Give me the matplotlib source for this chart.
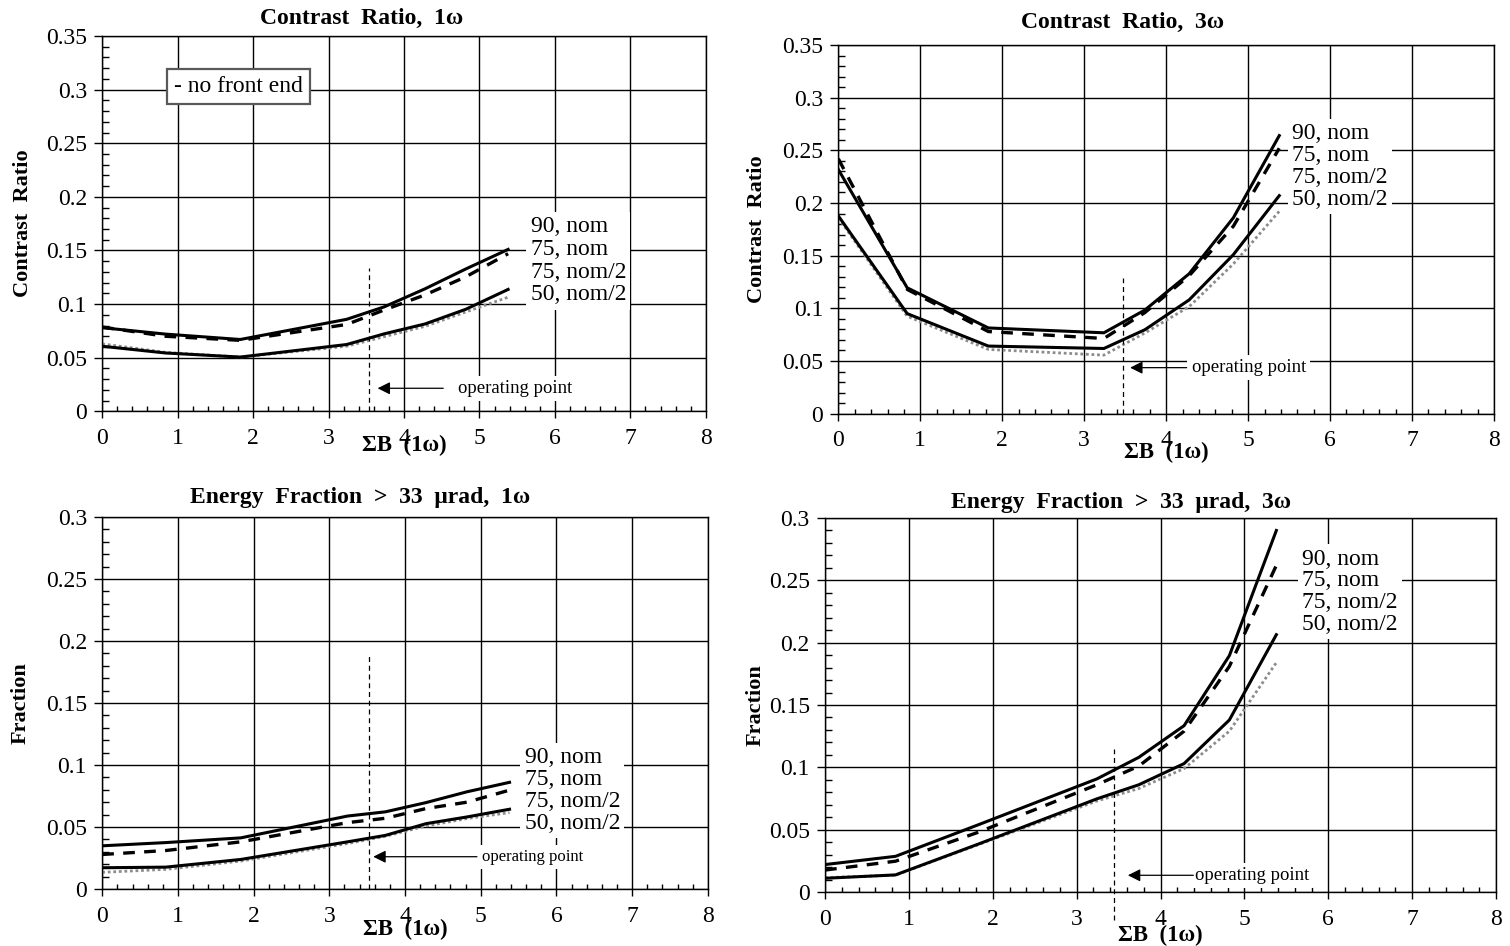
import matplotlib
matplotlib.use("Agg")
import matplotlib.pyplot as plt
from matplotlib.ticker import MultipleLocator, FuncFormatter

plt.rcParams['font.family'] = ['Liberation Serif', 'DejaVu Serif']
plt.rcParams['font.size'] = 16

# sigma-B sample points (1 omega)
sigma_b = [0, 0.84, 1.83, 3.24, 3.74, 4.28, 4.82, 5.38]
series_names = ["90, nom", "75, nom", "75, nom/2", "50, nom/2"]

# contrast ratio, 1 omega
cr1_90_nom = [0.078, 0.072, 0.067, 0.0858, 0.0975, 0.1143, 0.1328, 0.151]
cr1_75_nom = [0.0786, 0.070, 0.0662, 0.081, 0.0946, 0.1086, 0.1255, 0.147]
cr1_75_half = [0.0607, 0.0544, 0.0506, 0.0623, 0.0723, 0.0815, 0.0952, 0.1137]
cr1_50_half = [0.0629, 0.055, 0.0506, 0.0607, 0.0697, 0.0793, 0.0927, 0.1064]

# contrast ratio, 3 omega
cr3_90_nom = [0.2318, 0.1195, 0.0814, 0.0768, 0.0984, 0.1328, 0.186, 0.264]
cr3_75_nom = [0.242, 0.118, 0.078, 0.0714, 0.096, 0.131, 0.178, 0.252]
cr3_75_half = [0.1877, 0.095, 0.0642, 0.0619, 0.0797, 0.108, 0.151, 0.207]
cr3_50_half = [0.186, 0.0925, 0.061, 0.0556, 0.0766, 0.1016, 0.1422, 0.1922]

# energy fraction > 33 urad, 1 omega
ef1_90_nom = [0.0348, 0.0374, 0.0412, 0.0588, 0.0622, 0.0697, 0.0784, 0.086]
ef1_75_nom = [0.0278, 0.031, 0.038, 0.0535, 0.057, 0.0649, 0.070, 0.0797]
ef1_75_half = [0.0171, 0.0176, 0.0238, 0.038, 0.0432, 0.0527, 0.0581, 0.0643]
ef1_50_half = [0.0134, 0.0158, 0.0225, 0.0366, 0.0425, 0.0508, 0.0568, 0.0616]

# energy fraction > 33 urad, 3 omega
ef3_90_nom = [0.022, 0.0286, 0.054, 0.0907, 0.108, 0.1334, 0.1896, 0.29]
ef3_75_nom = [0.0176, 0.0247, 0.048, 0.086, 0.101, 0.129, 0.181, 0.262]
ef3_75_half = [0.011, 0.0137, 0.0385, 0.0747, 0.086, 0.103, 0.138, 0.2064]
ef3_50_half = [0.0115, 0.0135, 0.038, 0.073, 0.083, 0.099, 0.129, 0.184]

# operating point (sigma-B) marked on each panel
op_point = [3.53, 3.47, 3.53, 3.44]

styles = [
    dict(color='black', lw=2.2, ls='-', zorder=4),
    dict(color='black', lw=2.4, ls=(0, (3.5, 2.8)), zorder=5),
    dict(color='black', lw=2.2, ls='-', zorder=3),
    dict(color='0.55', lw=2.0, ls=(0, (1, 1)), zorder=2),
]

panels = [
    dict(rect=[0.0677, 0.5652, 0.3997, 0.3967], title="Contrast  Ratio,  1ω",
         ylabel="Contrast  Ratio", ymax=0.35,
         curves=[cr1_90_nom, cr1_75_nom, cr1_75_half, cr1_50_half],
         op_top=0.1335, op_bottom=0.0, arrow=(3.65, 4.52, 0.0215), op_text_x=4.71, op_fs=13.5,
         leg=(5.68, 0.1403), leg_ls=1.1, title_x=0.43, title_pad=13, xlab_y=-0.091, ylab_x=-0.131),
    dict(rect=[0.5552, 0.5627, 0.4342, 0.3897], title="Contrast  Ratio,  3ω",
         ylabel="Contrast  Ratio", ymax=0.35,
         curves=[cr3_90_nom, cr3_75_nom, cr3_75_half, cr3_50_half],
         op_top=0.1286, op_bottom=0.0, arrow=(3.56, 4.25, 0.0437), op_text_x=4.31, op_fs=13.5,
         leg=(5.54, 0.2346), leg_ls=1.05, title_x=0.433, title_pad=16.5, xlab_y=-0.106, ylab_x=-0.1235),
    dict(rect=[0.0677, 0.0603, 0.4011, 0.3932], title="Energy  Fraction  >  33  μrad,  1ω",
         ylabel="Fraction", ymax=0.3,
         curves=[ef1_90_nom, ef1_75_nom, ef1_75_half, ef1_50_half],
         op_top=0.19, op_bottom=0.0, arrow=(3.58, 4.95, 0.026), op_text_x=5.02, op_fs=12,
         leg=(5.58, 0.0793), leg_ls=1.05, title_x=0.426, title_pad=13.7, xlab_y=-0.110, ylab_x=-0.134),
    dict(rect=[0.5464, 0.0571, 0.4444, 0.3953], title="Energy  Fraction  >  33  μrad,  3ω",
         ylabel="Fraction", ymax=0.3,
         curves=[ef3_90_nom, ef3_75_nom, ef3_75_half, ef3_50_half],
         op_top=0.1144, op_bottom=-0.0225, arrow=(3.61, 4.39, 0.0134), op_text_x=4.41, op_fs=13.5,
         leg=(5.69, 0.2408), leg_ls=1.05, title_x=0.441, title_pad=11.5, xlab_y=-0.115, ylab_x=-0.104),
]

fig = plt.figure(figsize=(15.1, 9.46), dpi=100)

for p, op_x in zip(panels, op_point):
    ax = fig.add_axes(p['rect'])
    # draw the dotted curve first so the solid ones sit on top
    for ys, st in reversed(list(zip(p['curves'], styles))):
        ax.plot(sigma_b, ys, color=st['color'], lw=st['lw'], ls=st['ls'],
                zorder=st['zorder'], solid_joinstyle='miter')

    ax.set_xlim(0, 8)
    ax.set_ylim(0, p['ymax'])
    ax.xaxis.set_major_locator(MultipleLocator(1))
    ax.xaxis.set_minor_locator(MultipleLocator(0.2))
    ax.yaxis.set_major_locator(MultipleLocator(0.05))
    ax.yaxis.set_minor_locator(MultipleLocator(0.01))
    ax.yaxis.set_major_formatter(FuncFormatter(lambda v, pos: "%g" % round(v, 3)))
    ax.grid(True, which='major', color='black', lw=1.0)
    ax.set_axisbelow(True)
    for sp in ax.spines.values():
        sp.set_linewidth(1.0)
    ax.tick_params(axis='x', which='major', direction='out', length=5, width=1, pad=7, labelsize=17)
    ax.tick_params(axis='x', which='minor', direction='in', length=3.5, width=1)
    ax.tick_params(axis='y', which='major', direction='out', length=6, width=1, pad=5, labelsize=17)
    ax.tick_params(axis='y', which='minor', direction='in', length=5, width=1)

    ax.set_title(p['title'], x=p['title_x'], pad=p['title_pad'], va='center',
                 fontsize=17, fontweight='bold')
    ax.set_xlabel("ΣB  (1ω)", fontsize=16.5, fontweight='bold')
    ax.xaxis.label.set_verticalalignment('center')
    ax.xaxis.set_label_coords(0.5, p['xlab_y'])
    ax.set_ylabel(p['ylabel'], fontsize=16, fontweight='bold')
    ax.yaxis.label.set_verticalalignment('center')
    ax.yaxis.set_label_coords(p['ylab_x'], 0.5)

    # operating point marker
    ax.plot([op_x, op_x], [p['op_bottom'], p['op_top']], color='black', lw=0.9,
            ls=(0, (4, 3)), clip_on=False, zorder=6)
    hx, tx, ay = p['arrow']
    ax.annotate('', xy=(hx, ay), xytext=(tx, ay),
                arrowprops=dict(arrowstyle='-|>,head_length=0.5,head_width=0.25',
                                fc='black', ec='black', lw=0.9, mutation_scale=15,
                                shrinkA=0, shrinkB=0), zorder=7)
    ax.text(p['op_text_x'], ay, "operating point", fontsize=p['op_fs'], ha='left', va='center',
            bbox=dict(facecolor='white', edgecolor='none', pad=3), zorder=6)

    # series labels
    ax.text(p['leg'][0], p['leg'][1], "\n".join(series_names), fontsize=17, ha='left',
            va='center', linespacing=p['leg_ls'],
            bbox=dict(facecolor='white', edgecolor='none', pad=3), zorder=6)

    if p['ylabel'] == "Contrast  Ratio" and p['title'].endswith("1ω"):
        ax.text(1.80, 0.303, "- no front end", fontsize=17, ha='center', va='center',
                bbox=dict(boxstyle='square,pad=0.3', facecolor='white', edgecolor='0.35', lw=1.6),
                zorder=6)

fig.savefig("out.png", dpi=100)
